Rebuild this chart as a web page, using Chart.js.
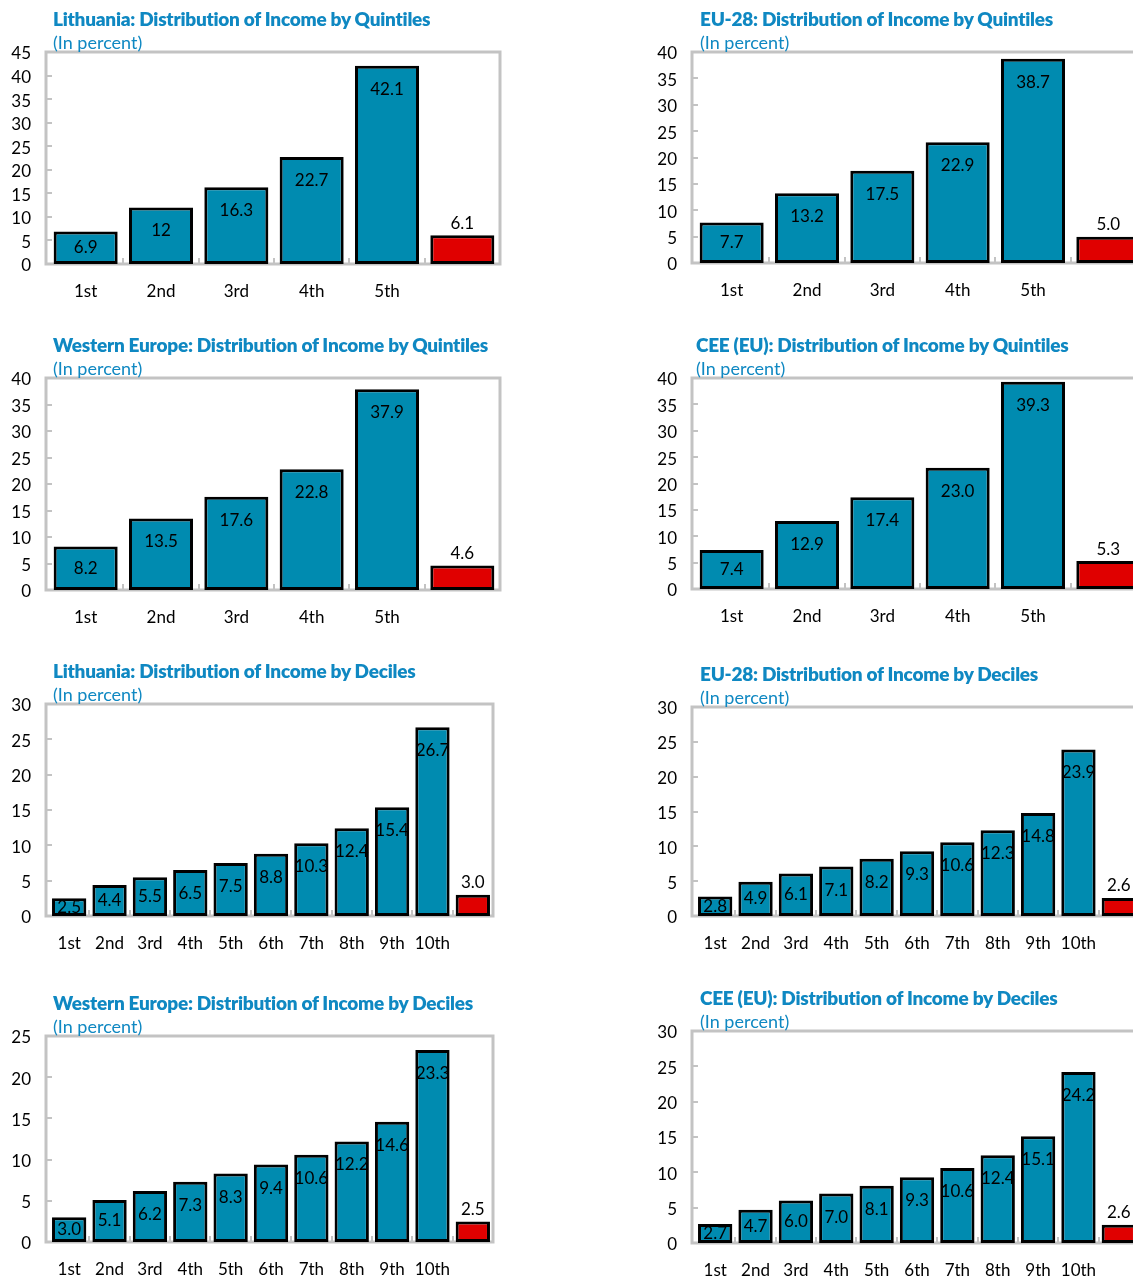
<!DOCTYPE html>
<html>
<head>
<meta charset="utf-8">
<script src="https://cdn.jsdelivr.net/npm/chart.js@4.4.1/dist/chart.umd.min.js"></script>
<style>
  body { margin: 0; background: #fff; }
  #page { position: relative; width: 1133px; height: 1279px; overflow: hidden; font-family: Lato, sans-serif; }
  .title { position: absolute; color: #0f88c2; font-weight: 800; font-size: 19px; white-space: nowrap; letter-spacing: -0.25px; line-height: 22px; z-index: 2; }
  .sub { position: absolute; color: #0f88c2; font-size: 18px; white-space: nowrap; line-height: 22px; z-index: 2; }
  canvas { position: absolute; }
</style>
</head>
<body>
<div id="page"></div>
<script>
// categories
var quintileLabels = ['1st', '2nd', '3rd', '4th', '5th', ''];
var decileLabels = ['1st', '2nd', '3rd', '4th', '5th', '6th', '7th', '8th', '9th', '10th', ''];

// shares by quintile, last value is the top/bottom ratio (red bar)
var lithuaniaQuintiles = [6.9, 12, 16.3, 22.7, 42.1, 6.1];
var eu28Quintiles = [7.7, 13.2, 17.5, 22.9, 38.7, 5.0];
var westQuintiles = [8.2, 13.5, 17.6, 22.8, 37.9, 4.6];
var ceeQuintiles = [7.4, 12.9, 17.4, 23.0, 39.3, 5.3];

// shares by decile, last value is the top/bottom ratio (red bar)
var lithuaniaDeciles = [2.5, 4.4, 5.5, 6.5, 7.5, 8.8, 10.3, 12.4, 15.4, 26.7, 3.0];
var eu28Deciles = [2.8, 4.9, 6.1, 7.1, 8.2, 9.3, 10.6, 12.3, 14.8, 23.9, 2.6];
var westDeciles = [3.0, 5.1, 6.2, 7.3, 8.3, 9.4, 10.6, 12.2, 14.6, 23.3, 2.5];
var ceeDeciles = [2.7, 4.7, 6.0, 7.0, 8.1, 9.3, 10.6, 12.4, 15.1, 24.2, 2.6];

// axis maximums
var axisMax = [45, 40, 40, 40, 30, 30, 25, 30];

var titles = [
  'Lithuania: Distribution of Income by Quintiles',
  'EU-28: Distribution of Income by Quintiles',
  'Western Europe: Distribution of Income by Quintiles',
  'CEE (EU): Distribution of Income by Quintiles',
  'Lithuania: Distribution of Income by Deciles',
  'EU-28: Distribution of Income by Deciles',
  'Western Europe: Distribution of Income by Deciles',
  'CEE (EU): Distribution of Income by Deciles'
];

var teal = '#008bb0';
var red = '#e00000';
var frameGray = '#c3c3c3';

// layout: x = page left of frame, top/bottom of frame, right of frame, title x, left inset of bar area
var panels = [
  { data: lithuaniaQuintiles, labels: quintileLabels, x: 46, top: 52, bottom: 264, right: 500, tx: 53, inset: 2, general: true },
  { data: eu28Quintiles, labels: quintileLabels, x: 692, top: 52, bottom: 263, right: 1146, tx: 700, inset: 2 },
  { data: westQuintiles, labels: quintileLabels, x: 46, top: 378, bottom: 590, right: 500, tx: 53, inset: 2 },
  { data: ceeQuintiles, labels: quintileLabels, x: 692, top: 378, bottom: 589, right: 1146, tx: 696, inset: 2 },
  { data: lithuaniaDeciles, labels: decileLabels, x: 46, top: 704, bottom: 916, right: 493, tx: 53, inset: 3 },
  { data: eu28Deciles, labels: decileLabels, x: 692, top: 707, bottom: 916, right: 1139, tx: 700, inset: 3 },
  { data: westDeciles, labels: decileLabels, x: 46, top: 1036, bottom: 1242, right: 493, tx: 53, inset: 3 },
  { data: ceeDeciles, labels: decileLabels, x: 692, top: 1031, bottom: 1243, right: 1139, tx: 700, inset: 3 }
];

var framePlugin = {
  id: 'frame',
  beforeDatasetsDraw: function (chart) {
    var ctx = chart.ctx, a = chart.chartArea;
    var x = chart.scales.x, y = chart.scales.y;
    var fl = a.left - chart.options.plugins.frame.inset, fr = a.right;
    ctx.save();
    ctx.strokeStyle = frameGray;
    ctx.lineWidth = 3;
    ctx.strokeRect(fl, a.top, fr - fl, a.bottom - a.top);
    ctx.lineWidth = 2;
    y.ticks.forEach(function (t) {
      var py = Math.round(y.getPixelForValue(t.value));
      ctx.beginPath();
      ctx.moveTo(fl, py);
      ctx.lineTo(fl + 6, py);
      ctx.stroke();
    });
    for (var i = 1; i < x.ticks.length; i++) {
      var px = Math.round((x.getPixelForTick(i - 1) + x.getPixelForTick(i)) / 2);
      ctx.beginPath();
      ctx.moveTo(px, a.bottom);
      ctx.lineTo(px, a.bottom - 6);
      ctx.stroke();
    }
    ctx.restore();
  }
};

var valuePlugin = {
  id: 'values',
  afterDatasetsDraw: function (chart) {
    var ctx = chart.ctx;
    var meta = chart.getDatasetMeta(0);
    var vals = chart.data.datasets[0].data;
    var general = chart.options.plugins.values.general;
    ctx.save();
    ctx.font = '17px Lato';
    ctx.fillStyle = '#000';
    ctx.textAlign = 'center';
    ctx.textBaseline = 'middle';
    meta.data.forEach(function (bar, i) {
      var v = vals[i];
      var txt = general ? String(v) : v.toFixed(1);
      var cy;
      if (i === vals.length - 1) {
        cy = bar.y - 12;
      } else {
        cy = Math.min(bar.y + 23.5, (bar.y + bar.base) / 2);
      }
      ctx.fillText(txt, bar.x, cy);
    });
    ctx.restore();
  }
};

var page = document.getElementById('page');

panels.forEach(function (p, k) {
  var left = p.x - 46;
  var canvasTop = p.top - 52;
  var w = p.right - left + 2;
  var h = (p.bottom - p.top) + 52 + 45;

  var t = document.createElement('div');
  t.className = 'title';
  t.textContent = titles[k];
  t.style.left = p.tx + 'px';
  t.style.top = (p.top - 44) + 'px';
  page.appendChild(t);

  var s = document.createElement('div');
  s.className = 'sub';
  s.textContent = '(In percent)';
  s.style.left = p.tx + 'px';
  s.style.top = (p.top - 21) + 'px';
  page.appendChild(s);

  var cv = document.createElement('canvas');
  cv.style.left = left + 'px';
  cv.style.top = canvasTop + 'px';
  cv.style.width = w + 'px';
  cv.style.height = h + 'px';
  cv.width = w;
  cv.height = h;
  page.appendChild(cv);

  var colors = p.data.map(function (v, i) { return i === p.data.length - 1 ? red : teal; });

  new Chart(cv.getContext('2d'), {
    type: 'bar',
    data: {
      labels: p.labels,
      datasets: [{
        data: p.data,
        backgroundColor: colors,
        borderColor: '#000',
        borderWidth: 3,
        borderSkipped: false,
        barPercentage: 0.85,
        categoryPercentage: 1
      }]
    },
    options: {
      responsive: false,
      animation: false,
      layout: { padding: { top: 52, right: 2, left: 0, bottom: 0 } },
      plugins: {
        legend: { display: false },
        title: { display: false },
        tooltip: { enabled: false },
        values: { general: !!p.general },
        frame: { inset: p.inset }
      },
      scales: {
        x: {
          grid: { display: false },
          border: { display: false },
          ticks: { color: '#000', font: { family: 'Lato', size: 17 }, padding: 9, maxRotation: 0, autoSkip: false },
          afterFit: function (scale) { scale.height = 45; }
        },
        y: {
          min: 0,
          max: axisMax[k],
          grid: { display: false, drawTicks: false },
          border: { display: false },
          ticks: { stepSize: 5, color: '#000', font: { family: 'Lato', size: 17 }, padding: 15 + p.inset, labelOffset: 2 },
          afterFit: function (scale) { scale.width = 46 + p.inset; }
        }
      }
    },
    plugins: [framePlugin, valuePlugin]
  });
});
</script>
</body>
</html>
